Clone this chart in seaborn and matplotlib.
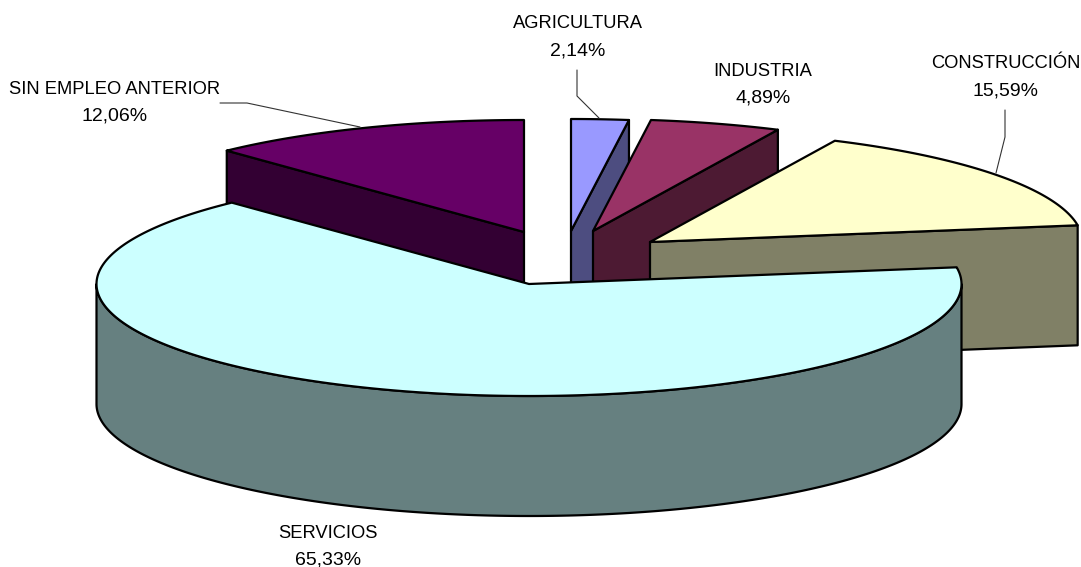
import numpy as np
import matplotlib
matplotlib.use('Agg')
import matplotlib.pyplot as plt
from matplotlib.patches import Polygon
import seaborn as sns

# Data
categories = ['AGRICULTURA', 'INDUSTRIA', 'CONSTRUCCIÓN', 'SERVICIOS', 'SIN EMPLEO ANTERIOR']
shares = [2.14, 4.89, 15.59, 65.33, 12.06]

# Pie look, all in pixels of the picture
top_colors = ['#9999FF', '#993366', '#FFFFCC', '#CCFFFF', '#660066']
wall_colors = ['#4D4D80', '#4D1A33', '#808066', '#668080', '#330033']
tips = [(571, 231), (593, 231), (650, 242), (529, 284), (524, 232)]
rx, ry, depth = 432.5, 112, 120
draw_order = [4, 0, 1, 2, 3]

label_xy = [(578, 24), (763, 71), (1006, 64), (328, 533), (115, 89)]
leaders = [
    [(577, 70), (577, 96), (599, 118)],
    None,
    [(1005, 110), (1005, 137), (996, 173)],
    None,
    [(220, 103), (247, 103), (360, 127)],
]

sns.set_theme(style='white')
plt.rcParams['font.family'] = ['Liberation Sans', 'DejaVu Sans']

fig = plt.figure(figsize=(10.81, 5.67), dpi=100)
ax = fig.add_axes([0, 0, 1, 1])
ax.set_xlim(0, 1081)
ax.set_ylim(567, 0)
ax.axis('off')


def arc(tip, a0, a1):
    # angles in degrees, clockwise from 12 o'clock
    n = max(2, int(abs(a1 - a0) * 2))
    t = np.radians(np.linspace(a0, a1, n))
    return np.column_stack([tip[0] + rx * np.sin(t), tip[1] - ry * np.cos(t)])


def down(pts):
    return pts + np.array([0, depth])


def face(pts, color, zorder, lw=1.6):
    ax.add_patch(Polygon(pts, closed=True, facecolor=color, edgecolor='black',
                         linewidth=lw, joinstyle='round', zorder=zorder))


edges = np.concatenate([[0], np.cumsum(shares)]) / sum(shares) * 360

z = 1
for i in draw_order:
    a0, a1 = edges[i], edges[i + 1]
    tip = np.array(tips[i], dtype=float)
    rim = arc(tip, a0, a1)

    # cut wall on the side that faces the viewer
    side = rim[0] if i == 4 else rim[-1]
    cut = np.array([tip, side])
    if i != 3:
        face(np.vstack([cut, down(cut)[::-1]]), wall_colors[i], z)
        z += 1

    # outer wall, only for the front half of the ellipse
    lo, hi = max(a0, 90), min(a1, 270)
    if lo < hi:
        front = arc(tip, lo, hi)
        face(np.vstack([front, down(front)[::-1]]), wall_colors[i], z)
        z += 1

    face(np.vstack([tip, rim]), top_colors[i], z)
    z += 1

# Labels and leader lines
for name, val, (x, y), lead in zip(categories, shares, label_xy, leaders):
    pct = f'{val:.2f}%'.replace('.', ',')
    ax.text(x, y, name, ha='center', va='center', fontsize=13.2, color='black', zorder=z)
    ax.text(x, y + 27, pct, ha='center', va='center', fontsize=14, color='black', zorder=z)
    if lead:
        ax.plot(*zip(*lead), color='#333333', lw=0.8, zorder=z)

fig.savefig('out.png', dpi=100, facecolor='white')
